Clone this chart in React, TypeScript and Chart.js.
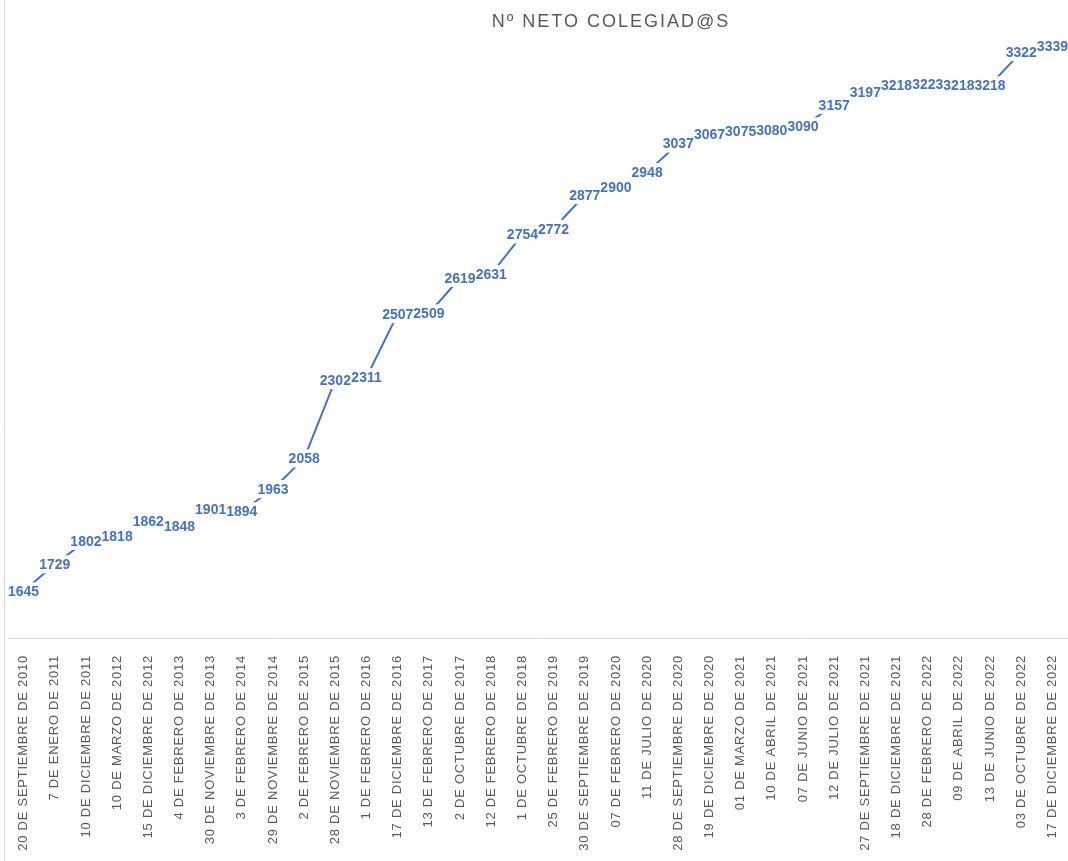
import React, { useEffect, useRef } from "react";
import { Chart, registerables } from "chart.js";

Chart.register(...registerables);

const TITLE = "Nº NETO COLEGIAD@S";

const categories = [
  "20 DE SEPTIEMBRE DE 2010",
  "7 DE ENERO DE 2011",
  "10 DE DICIEMBRE DE 2011",
  "10 DE MARZO DE 2012",
  "15 DE DICIEMBRE DE 2012",
  "4 DE FEBRERO DE 2013",
  "30 DE NOVIEMBRE DE 2013",
  "3 DE FEBRERO DE 2014",
  "29 DE NOVIEMBRE DE 2014",
  "2 DE FEBRERO DE 2015",
  "28 DE NOVIEMBRE DE 2015",
  "1 DE FEBRERO DE 2016",
  "17 DE DICIEMBRE DE 2016",
  "13 DE FEBRERO DE 2017",
  "2 DE OCTUBRE DE 2017",
  "12 DE FEBRERO DE 2018",
  "1 DE OCTUBRE DE 2018",
  "25 DE FEBRERO DE 2019",
  "30 DE SEPTIEMBRE DE 2019",
  "07 DE FEBRERO DE 2020",
  "11 DE JULIO DE 2020",
  "28 DE SEPTIEMBRE DE 2020",
  "19 DE DICIEMBRE DE 2020",
  "01 DE MARZO DE 2021",
  "10 DE ABRIL DE 2021",
  "07 DE JUNIO DE 2021",
  "12 DE JULIO DE 2021",
  "27 DE SEPTIEMBRE DE 2021",
  "18 DE DICIEMBRE DE 2021",
  "28 DE FEBRERO DE 2022",
  "09 DE ABRIL DE 2022",
  "13 DE JUNIO DE 2022",
  "03 DE OCTUBRE DE 2022",
  "17 DE DICIEMBRE DE 2022",
];

const colegiados = [
  1645, 1729, 1802, 1818, 1862, 1848, 1901, 1894, 1963, 2058, 2302, 2311,
  2507, 2509, 2619, 2631, 2754, 2772, 2877, 2900, 2948, 3037, 3067, 3075,
  3080, 3090, 3157, 3197, 3218, 3223, 3218, 3218, 3322, 3339,
];

const Y_MIN = 1500;
const Y_MAX = 3421;

export default function App() {
  const ref = useRef<HTMLCanvasElement>(null);

  useEffect(() => {
    const canvas = ref.current;
    if (!canvas) return;

    const decorPlugin = {
      id: "decor",
      beforeDraw(chart: any) {
        const c = chart.ctx;
        c.save();
        c.strokeStyle = "#d9d9d9";
        c.lineWidth = 1;
        c.beginPath();
        c.moveTo(4.5, 0);
        c.lineTo(4.5, chart.height);
        c.stroke();
        c.restore();
        (c as any).letterSpacing = "0.75px";
      },
      beforeDatasetsDraw(chart: any) {
        (chart.ctx as any).letterSpacing = "0px";
      },
      afterDatasetsDraw(chart: any) {
        const c = chart.ctx;
        const meta = chart.getDatasetMeta(0);
        c.save();
        (c as any).letterSpacing = "0px";
        c.font = "bold 14px 'Liberation Sans', Arial, sans-serif";
        c.textAlign = "center";
        c.textBaseline = "middle";
        c.fillStyle = "#ffffff";
        meta.data.forEach((pt: any, i: number) => {
          const txt = String(colegiados[i]);
          const w = c.measureText(txt).width;
          c.fillRect(pt.x - w / 2 - 3, pt.y - 9, w + 6, 18);
        });
        c.fillStyle = "#4472C4";
        meta.data.forEach((pt: any, i: number) => {
          c.fillText(String(colegiados[i]), pt.x, pt.y + 1);
        });
        c.restore();
      },
      afterDraw(chart: any) {
        const c = chart.ctx;
        c.save();
        (c as any).letterSpacing = "2px";
        c.font = "18px 'Liberation Sans', Arial, sans-serif";
        c.fillStyle = "#595959";
        c.textAlign = "center";
        c.textBaseline = "middle";
        c.fillText(TITLE, 611, 22);
        c.restore();
        (c as any).letterSpacing = "0px";
      },
    };

    const chart = new Chart(canvas, {
      type: "line",
      data: {
        labels: categories,
        datasets: [
          {
            label: TITLE,
            data: colegiados,
            borderColor: "#4472C4",
            backgroundColor: "#4472C4",
            borderWidth: 2,
            pointRadius: 0,
            tension: 0,
            fill: false,
          },
        ],
      },
      options: {
        responsive: false,
        animation: false,
        layout: { padding: { left: 8, right: 0, top: 20, bottom: 0 } },
        plugins: {
          legend: { display: false },
          title: { display: false },
          tooltip: { enabled: false },
        },
        scales: {
          x: {
            offset: true,
            grid: { display: false },
            border: { display: true, color: "#d9d9d9", width: 1 },
            ticks: {
              autoSkip: false,
              maxRotation: 90,
              minRotation: 90,
              padding: 9,
              color: "#595959",
              font: { family: "'Liberation Sans', Arial, sans-serif", size: 13 },
            },
            afterFit(scale: any) {
              scale.height = 223;
              scale.paddingLeft = 0;
              scale.paddingRight = 0;
            },
          },
          y: {
            display: false,
            min: Y_MIN,
            max: Y_MAX,
          },
        },
      },
      plugins: [decorPlugin],
    });

    return () => chart.destroy();
  }, []);

  return (
    <div style={{ position: "absolute", left: 0, top: 0, width: 1068, height: 861, background: "#fff" }}>
      <canvas ref={ref} width={1068} height={861} />
    </div>
  );
}
